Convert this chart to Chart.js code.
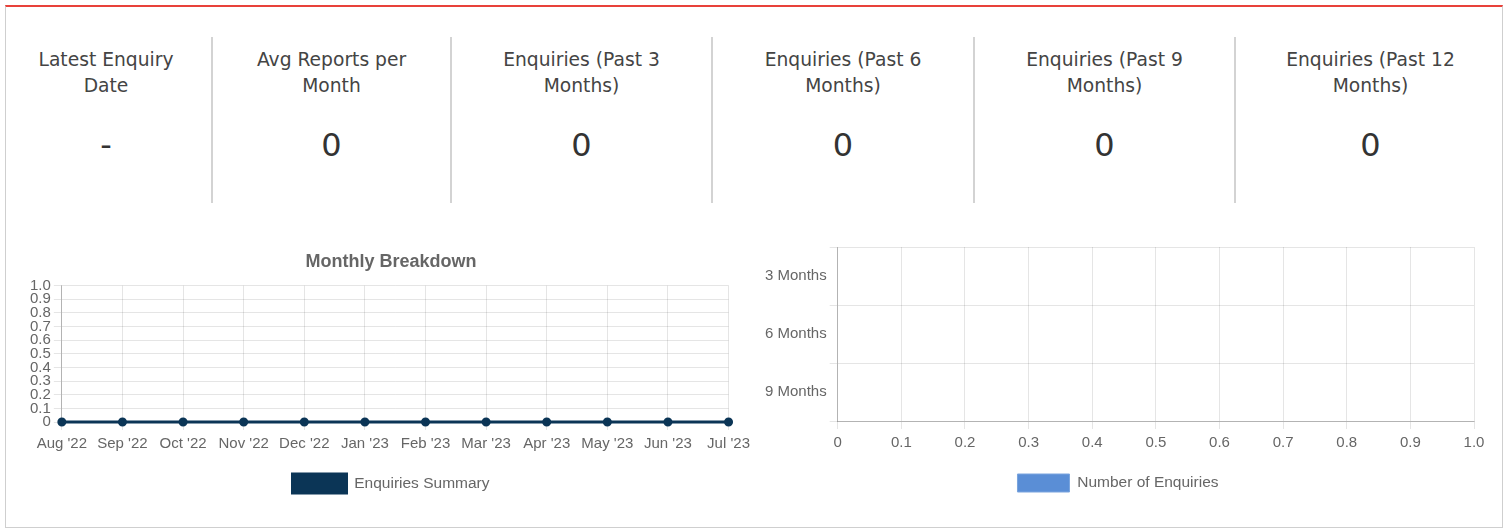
<!doctype html>
<html>
<head>
<meta charset="utf-8">
<title>Enquiries</title>
<script src="https://cdn.jsdelivr.net/npm/chart.js@4.4.0/dist/chart.umd.min.js"></script>
<style>
  html, body { margin: 0; padding: 0; background: #fff; }
  body { width: 1512px; height: 529px; position: relative; overflow: hidden; font-family: "DejaVu Sans", sans-serif; }
  .card { position: absolute; left: 5px; top: 5px; width: 1496px; height: 520px;
          border: 1px solid #cfcfcf; border-top: 2px solid #e8413a; }
  .stats { position: absolute; left: 6px; top: 37px; display: flex; }
  .stat { height: 166px; box-sizing: border-box; text-align: center; }
  .stat + .stat { border-left: 2px solid #d3d3d3; }
  .stat:nth-child(1) { width: 205px; padding-right: 5px; }
  .stat:nth-child(2) { width: 239px; }
  .stat:nth-child(3) { width: 261px; }
  .stat:nth-child(4) { width: 262px; }
  .stat:nth-child(5) { width: 261px; }
  .stat:nth-child(6) { width: 267px; padding-left: 4px; }
  .lbl { margin-top: 10px; font-size: 18.7px; line-height: 26px; color: #444; }
  .val { margin-top: 26px; font-size: 32px; line-height: 40px; color: #333; }
  .chart { position: absolute; }
  #leftBox { left: 6px; top: 238px; width: 749px; height: 265px; }
  #rightBox { left: 752px; top: 235px; width: 748px; height: 267px; }
</style>
</head>
<body>
<div class="card"></div>
<div class="stats" id="stats"></div>
<div class="chart" id="leftBox"><canvas id="monthly"></canvas></div>
<div class="chart" id="rightBox"><canvas id="periods"></canvas></div>
<script>
  // summary figures
  const statLabels = [['Latest Enquiry', 'Date'], ['Avg Reports per', 'Month'],
    ['Enquiries (Past 3', 'Months)'], ['Enquiries (Past 6', 'Months)'],
    ['Enquiries (Past 9', 'Months)'], ['Enquiries (Past 12', 'Months)']];
  const statValues = ['-', '0', '0', '0', '0', '0'];

  // monthly breakdown
  const months = ["Aug '22", "Sep '22", "Oct '22", "Nov '22", "Dec '22", "Jan '23",
    "Feb '23", "Mar '23", "Apr '23", "May '23", "Jun '23", "Jul '23"];
  const monthlyEnquiries = [0, 0, 0, 0, 0, 0, 0, 0, 0, 0, 0, 0];

  // enquiries per period
  const periodLabels = ['3 Months', '6 Months', '9 Months'];
  const periodEnquiries = [0, 0, 0];

  const valueTicks = ['0', '0.1', '0.2', '0.3', '0.4', '0.5', '0.6', '0.7', '0.8', '0.9', '1.0'];

  const statsEl = document.getElementById('stats');
  statLabels.forEach((l, i) => {
    const d = document.createElement('div');
    d.className = 'stat';
    d.innerHTML = '<div class="lbl">' + l.join('<br>') + '</div><div class="val">' + statValues[i] + '</div>';
    statsEl.appendChild(d);
  });

  Chart.defaults.font.family = "'Liberation Sans', Arial, sans-serif";
  Chart.defaults.color = '#666';
  Chart.defaults.animation = false;

  const gridColor = 'rgba(0,0,0,0.1)';
  const axisColor = 'rgba(0,0,0,0.22)';
  // a little room between the x tick labels and the legend
  const roomBelow = extra => scale => { scale.height += extra; };

  new Chart(document.getElementById('monthly'), {
    type: 'line',
    data: {
      labels: months,
      datasets: [{
        label: 'Enquiries Summary',
        data: monthlyEnquiries,
        borderColor: '#0b3556',
        backgroundColor: '#0b3556',
        borderWidth: 3,
        pointRadius: 3,
        pointBackgroundColor: '#0b3556',
        fill: false,
        tension: 0,
        clip: false
      }]
    },
    options: {
      responsive: true,
      maintainAspectRatio: false,
      layout: { padding: { left: 21, right: 0 } },
      plugins: {
        title: { display: true, text: 'Monthly Breakdown', font: { size: 18, weight: 'bold' }, padding: { top: 13, bottom: 13 } },
        legend: { position: 'bottom', labels: { boxWidth: 54, boxHeight: 19, font: { size: 15.5 }, padding: 10 } },
        tooltip: { enabled: false }
      },
      scales: {
        x: {
          grid: { color: gridColor },
          border: { color: axisColor },
          afterFit: roomBelow(6),
          ticks: { autoSkip: false, maxRotation: 0, padding: 5, font: { size: 15 } }
        },
        y: {
          min: 0, max: 1,
          grid: { color: gridColor },
          border: { color: axisColor },
          ticks: { stepSize: 0.1, autoSkip: false, font: { size: 15 },
            callback: (v, i) => valueTicks[i] }
        }
      }
    }
  });

  new Chart(document.getElementById('periods'), {
    type: 'bar',
    data: {
      labels: periodLabels,
      datasets: [{
        label: 'Number of Enquiries',
        data: periodEnquiries,
        backgroundColor: '#5a8ed6',
        borderColor: '#7aa4de',
        borderWidth: 1
      }]
    },
    options: {
      indexAxis: 'y',
      responsive: true,
      maintainAspectRatio: false,
      layout: { padding: { left: 10, top: 0, right: 26 } },
      plugins: {
        legend: { position: 'bottom', labels: { boxWidth: 52, boxHeight: 18, font: { size: 15.5 }, padding: 10 } },
        tooltip: { enabled: false }
      },
      scales: {
        x: {
          min: 0, max: 1,
          grid: { color: gridColor },
          border: { color: axisColor },
          afterFit: roomBelow(7),
          ticks: { stepSize: 0.1, autoSkip: false, maxRotation: 0, padding: 5, font: { size: 15 },
            callback: (v, i) => valueTicks[i] }
        },
        y: {
          grid: { color: gridColor },
          border: { color: axisColor },
          ticks: { font: { size: 15 } }
        }
      }
    }
  });
</script>
</body>
</html>
